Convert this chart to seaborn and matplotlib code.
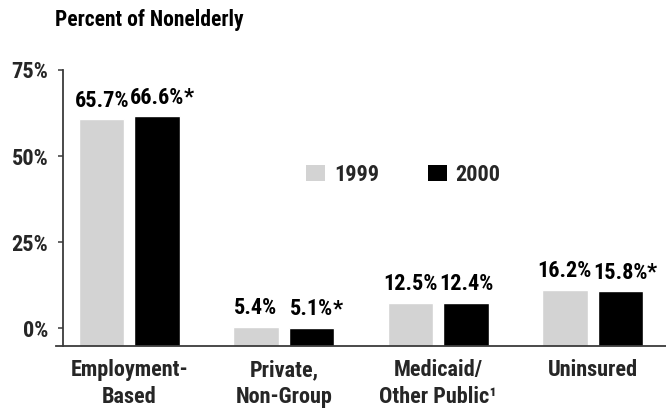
import matplotlib
matplotlib.use("Agg")
import matplotlib.pyplot as plt
from matplotlib.patches import Patch
import seaborn as sns
import pandas as pd

categories = ["Employment-\nBased", "Private,\nNon-Group", "Medicaid/\nOther Public\u00b9", "Uninsured"]
years = ["1999", "2000"]
values_1999 = [65.7, 5.4, 12.5, 16.2]
values_2000 = [66.6, 5.1, 12.4, 15.8]
starred_1999 = [False, False, False, False]
starred_2000 = [True, True, False, True]
tick_values = [0, 25, 50, 75]
tick_labels = ["0%", "25%", "50%", "75%"]
colors = ["#d3d3d3", "#000000"]

sns.set_theme(style="white")
FONT = ["Roboto Condensed", "DejaVu Sans"]
FS = 16
plt.rcParams["font.family"] = FONT
plt.rcParams["font.weight"] = "bold"

df = pd.DataFrame({
    "category": categories * 2,
    "year": [years[0]] * 4 + [years[1]] * 4,
    "value": values_1999 + values_2000,
})

fig = plt.figure(figsize=(6.66, 4.09), dpi=100)
ax = fig.add_axes([56 / 666, 1 - 345.7 / 409, 610 / 666, (345.7 - 70) / 409])

sns.barplot(data=df, x="category", y="value", hue="year", palette=colors,
            width=0.72, gap=0.18, saturation=1, legend=False, ax=ax)

ax.set_xlim(-0.476, 3.476)
ax.set_ylim(0, 80)
tick_offset = 5  # tick marks sit slightly above the bar baseline, as in the reference
ax.set_yticks([t + tick_offset for t in tick_values])
ax.set_yticklabels(tick_labels)
ax.set_xlabel("")
ax.set_ylabel("")

for s in ["top", "right"]:
    ax.spines[s].set_visible(False)
for s in ["left", "bottom"]:
    ax.spines[s].set_color("#3a3a3a")
    ax.spines[s].set_linewidth(1.3)
ax.spines["left"].set_position(("axes", 7 / 610))

ax.tick_params(axis="y", which="major", left=True, length=3.6, width=1.1,
               color="#3a3a3a", pad=7, labelsize=FS)
ax.tick_params(axis="x", length=0, pad=9.5, labelsize=FS)
for lab in ax.get_xticklabels():
    lab.set_fontweight("bold")
    lab.set_linespacing(1.28)
    lab.set_verticalalignment("top")
for lab in ax.get_yticklabels():
    lab.set_fontweight("bold")

# value labels
stars = [starred_1999, starred_2000]
for ci, container in enumerate(ax.containers):
    for bi, bar in enumerate(container):
        h = bar.get_height()
        x = bar.get_x() + bar.get_width() / 2
        t = ax.annotate(f"{h:.1f}%", xy=(x, h), xytext=(0, 5.5), textcoords="offset points",
                        ha="center", va="bottom", fontsize=FS, fontweight="bold",
                        color="black", annotation_clip=False)
        if stars[ci][bi]:
            ax.annotate("*", xy=(0.99, 1), xycoords=t, ha="left", va="top",
                        fontsize=FS, fontweight="bold", color="black",
                        annotation_clip=False)

handles = [Patch(facecolor=c, edgecolor="none", label=y) for c, y in zip(colors, years)]
leg = fig.legend(handles=handles, loc="center", bbox_to_anchor=(403.5 / 666, 1 - 175 / 409),
                 ncol=2, frameon=False, handlelength=0.85, handleheight=0.75,
                 handletextpad=0.4, columnspacing=2.2, borderpad=0,
                 prop={"family": FONT, "weight": "bold", "size": FS})

fig.text(55 / 666, 1 - 9 / 409, "Percent of Nonelderly", ha="left", va="top",
         fontsize=15.5, fontweight="bold", color="black")

fig.savefig("out.png", dpi=100)
